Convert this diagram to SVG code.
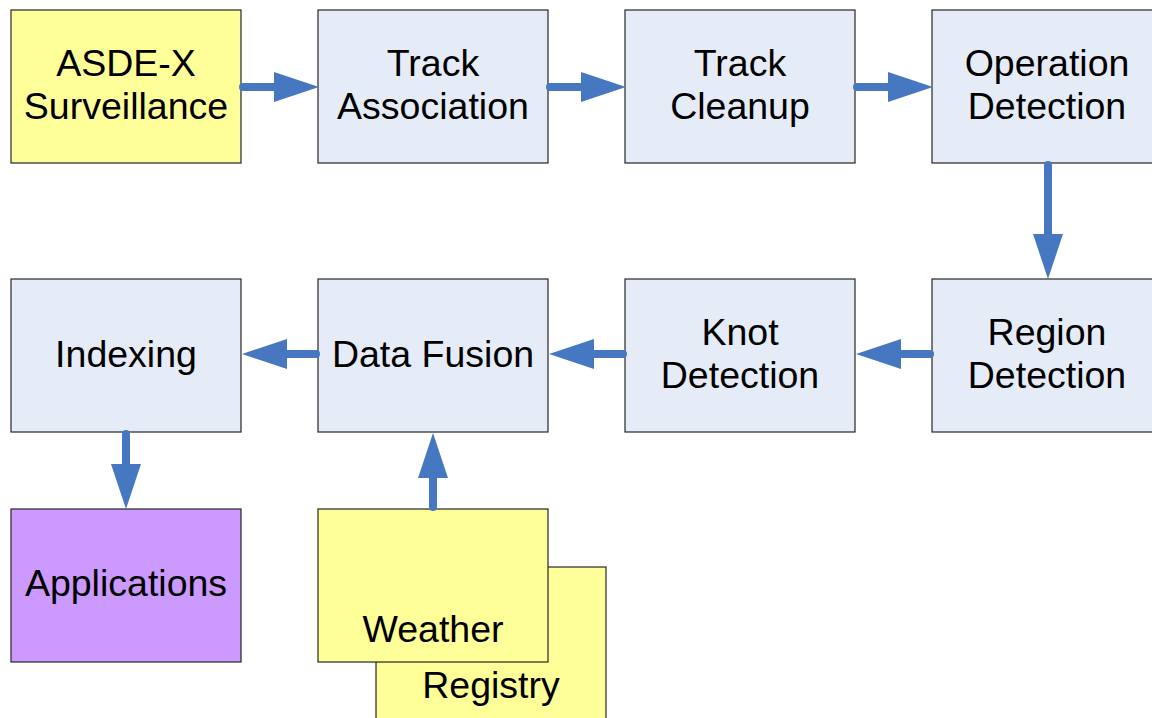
<svg xmlns="http://www.w3.org/2000/svg" width="1152" height="718" viewBox="0 0 1152 718">
<defs>
<style>
.box{stroke:#262626;stroke-width:1.2}
.blue{fill:#E6ECF7}
.yellow{fill:#FFFF99}
.purple{fill:#CC99FF}
text{font-family:"Liberation Sans",Arial,sans-serif;font-size:37.5px;fill:#000;text-anchor:middle}
.conn line{stroke:#4677C1;stroke-width:8;stroke-linecap:round;marker-end:url(#ah)}
</style>
<marker id="ah" markerUnits="userSpaceOnUse" markerWidth="46" markerHeight="30" refX="0" refY="15" orient="auto" viewBox="0 0 46 30">
<path d="M0,0 L45,15 L0,30 z" fill="#4677C1"/>
</marker>
</defs>
<rect width="1152" height="718" fill="#fff"/>
<g id="asdex"><rect class="box yellow" x="11" y="10" width="230" height="153"/><text x="126" y="76">ASDE-X</text><text x="126" y="119">Surveillance</text></g>
<g id="track-association"><rect class="box blue" x="318" y="10" width="230" height="153"/><text x="433" y="76">Track</text><text x="433" y="119">Association</text></g>
<g id="track-cleanup"><rect class="box blue" x="625" y="10" width="230" height="153"/><text x="740" y="76">Track</text><text x="740" y="119">Cleanup</text></g>
<g id="operation-detection"><rect class="box blue" x="932" y="10" width="230" height="153"/><text x="1047" y="76">Operation</text><text x="1047" y="119">Detection</text></g>
<g id="indexing"><rect class="box blue" x="11" y="279" width="230" height="153"/><text x="126" y="367">Indexing</text></g>
<g id="data-fusion"><rect class="box blue" x="318" y="279" width="230" height="153"/><text x="433" y="367">Data Fusion</text></g>
<g id="knot-detection"><rect class="box blue" x="625" y="279" width="230" height="153"/><text x="740" y="345">Knot</text><text x="740" y="388">Detection</text></g>
<g id="region-detection"><rect class="box blue" x="932" y="279" width="230" height="153"/><text x="1047" y="345">Region</text><text x="1047" y="388">Detection</text></g>
<g id="applications"><rect class="box purple" x="11" y="509" width="230" height="153"/><text x="126" y="596">Applications</text></g>
<g id="registry"><rect class="box yellow" x="376" y="567" width="230" height="160"/><text x="491" y="698">Registry</text></g>
<g id="weather"><rect class="box yellow" x="318" y="509" width="230" height="153"/><text x="433" y="642">Weather</text></g>
<g id="connectors" class="conn">
<line x1="243" y1="87" x2="274" y2="87"/>
<line x1="550" y1="87" x2="581" y2="87"/>
<line x1="857" y1="87" x2="888" y2="87"/>
<line x1="1048" y1="165" x2="1048" y2="234"/>
<line x1="930" y1="354" x2="901" y2="354"/>
<line x1="623" y1="354" x2="594" y2="354"/>
<line x1="316" y1="354" x2="287" y2="354"/>
<line x1="433" y1="507" x2="433" y2="478"/>
<line x1="126" y1="434" x2="126" y2="464"/>
</g>
</svg>
